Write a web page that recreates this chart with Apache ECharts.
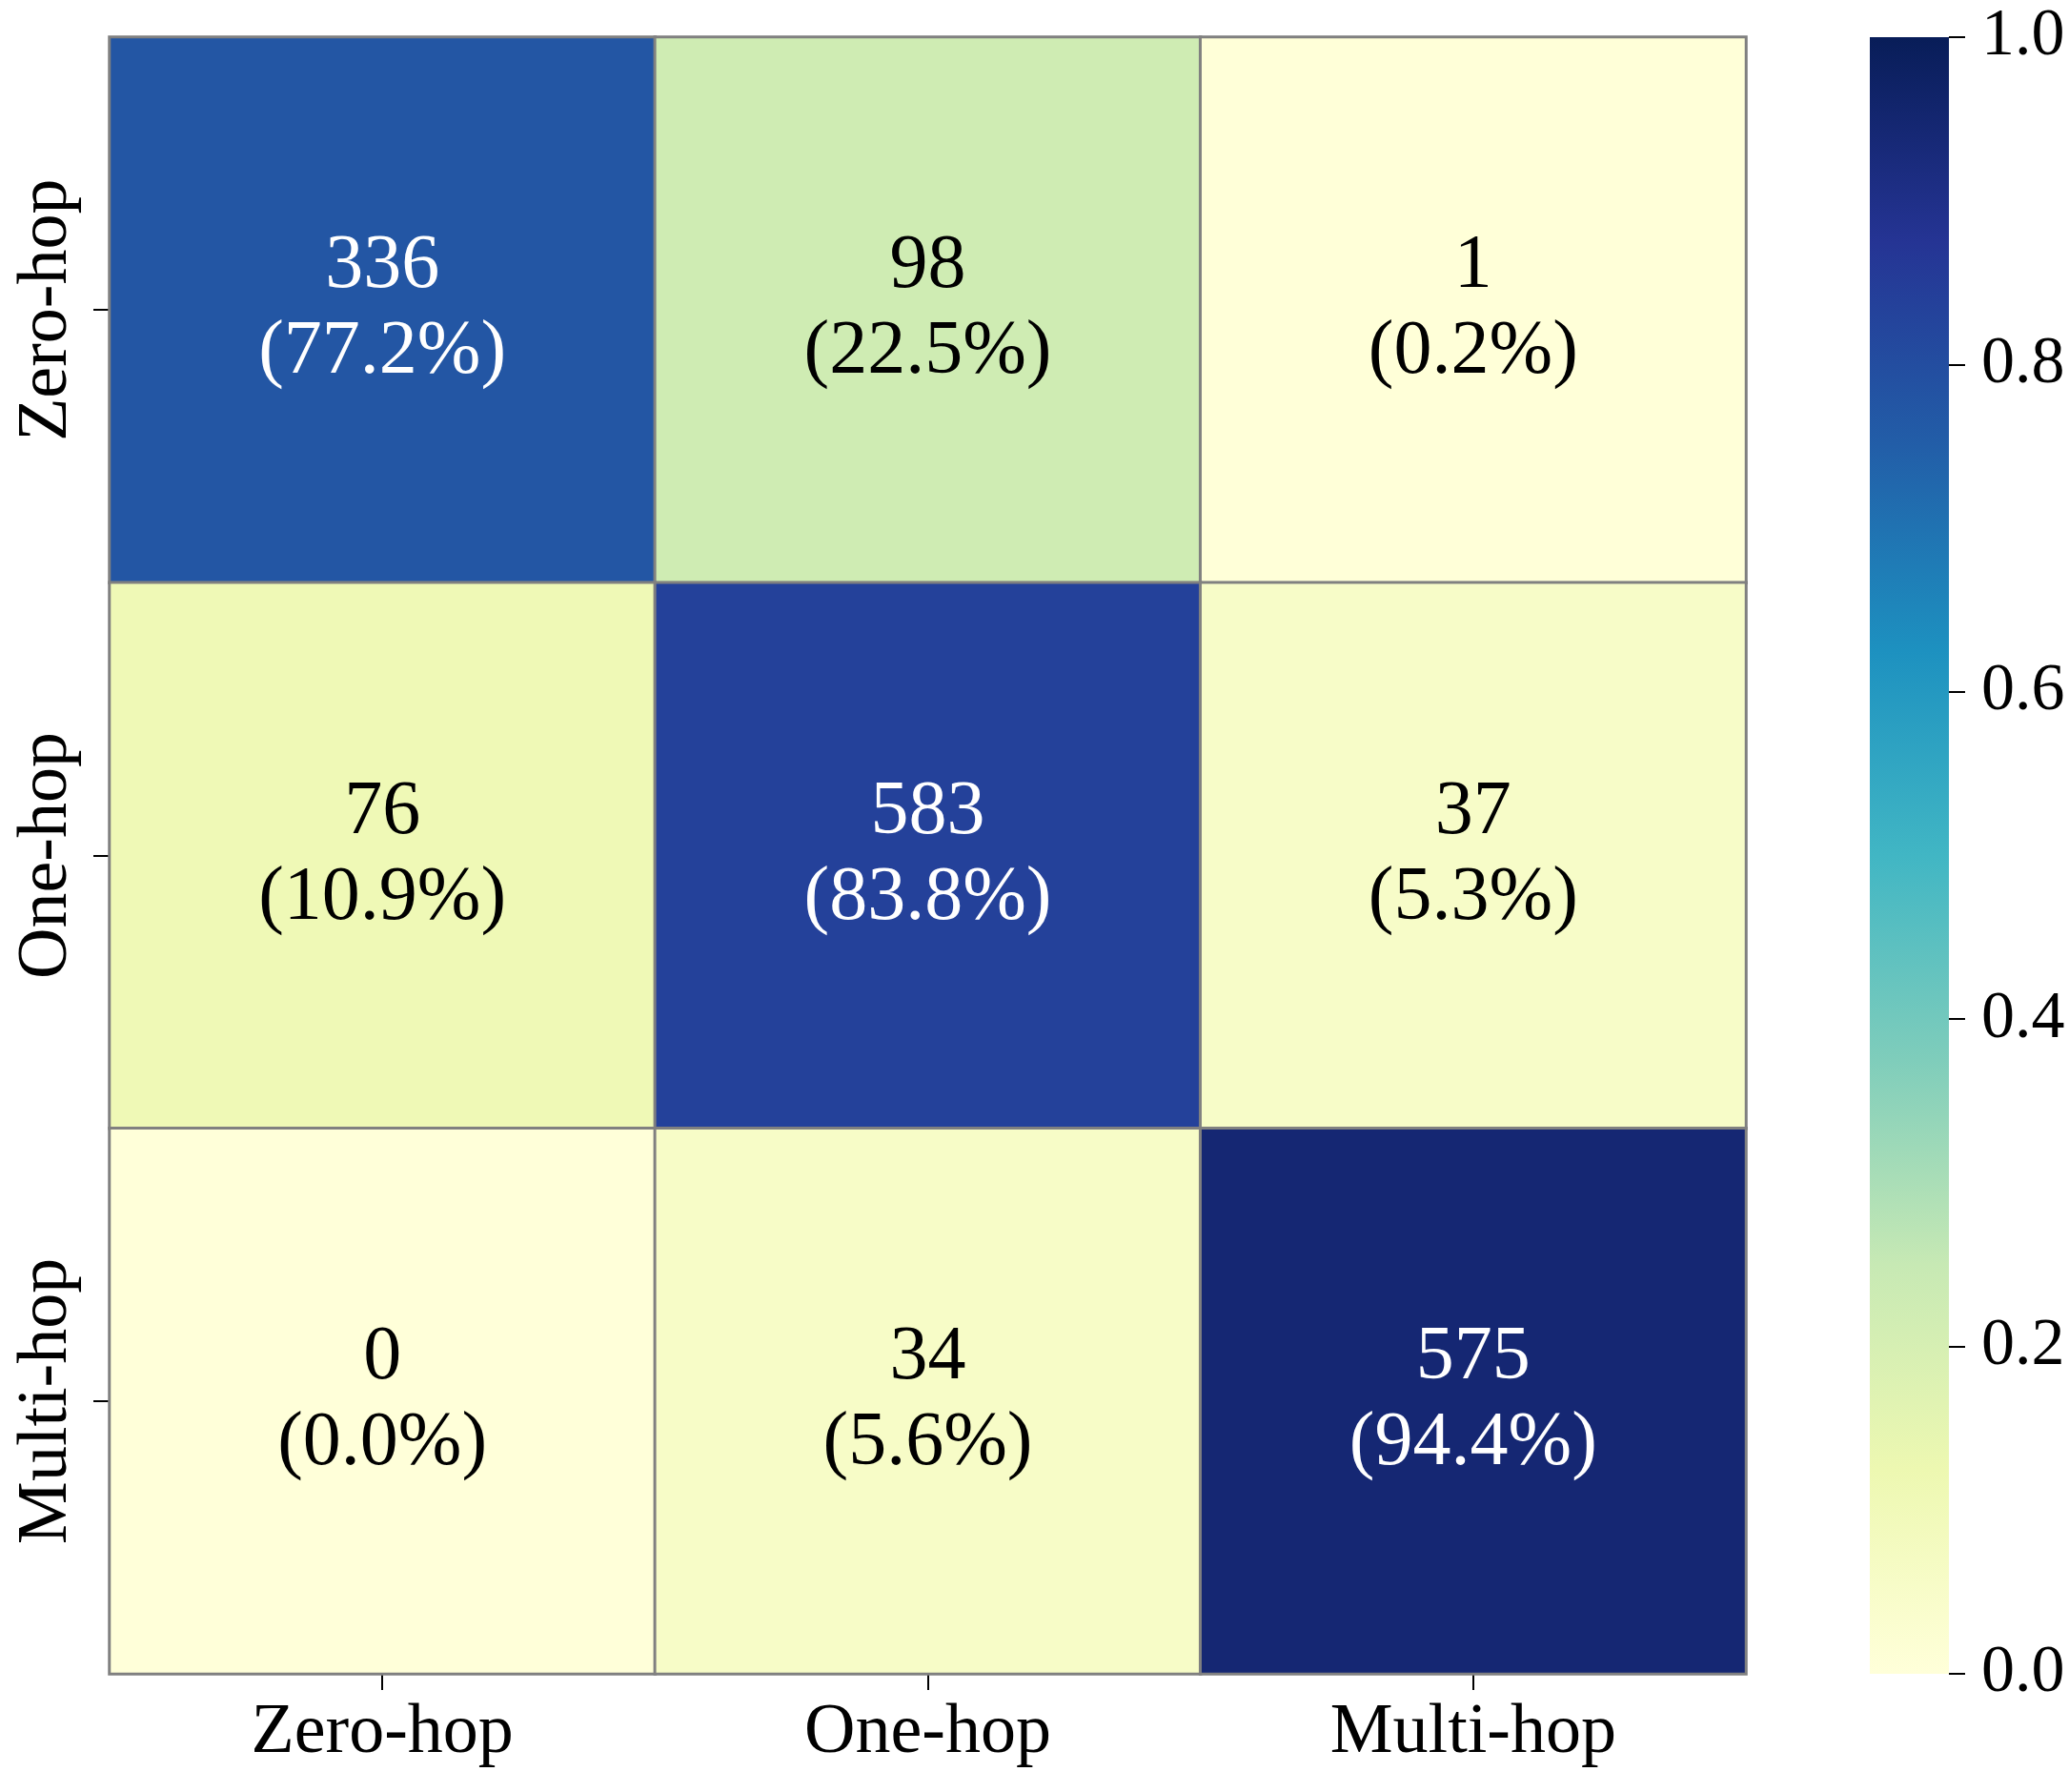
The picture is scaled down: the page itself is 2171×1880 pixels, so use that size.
<!DOCTYPE html>
<html>
<head>
<meta charset="utf-8">
<script src="https://cdn.jsdelivr.net/npm/echarts@6/dist/echarts.min.js"></script>
<style>
  html, body { margin: 0; padding: 0; background: #fff; }
  #chart { width: 2171px; height: 1880px; }
</style>
</head>
<body>
<div id="chart"></div>
<script>
// 类别（行 = 真实, 列 = 预测）
var categories = ['Zero-hop', 'One-hop', 'Multi-hop'];
// 混淆矩阵计数
var counts = [
  [336, 98, 1],
  [76, 583, 37],
  [0, 34, 575]
];
// 色条刻度
var barTicks = [0, 0.2, 0.4, 0.6, 0.8, 1.0];
// YlGnBu 色表
var ylGnBu = ['#ffffd9', '#edf8b1', '#c7e9b4', '#7fcdbb', '#41b6c4', '#1d91c0', '#225ea8', '#253494', '#081d58'];

var FONT = '"Liberation Serif", "DejaVu Serif", serif';

// 按行归一化，深色格子用白字
var cells = [];
counts.forEach(function (row, i) {
  var total = row.reduce(function (a, b) { return a + b; }, 0);
  row.forEach(function (c, j) {
    var ratio = c / total;
    cells.push({
      value: [j, i, ratio, c],
      label: { color: ratio > 0.5 ? '#fff' : '#000' }
    });
  });
});

var chart = echarts.init(document.getElementById('chart'));

var option = {
  backgroundColor: '#fff',
  animation: false,
  grid: [
    { left: 115, top: 39, width: 1717, height: 1717, containLabel: false },
    { left: 1962, top: 39, width: 83, height: 1717, containLabel: false }
  ],
  xAxis: [{
    type: 'category',
    gridIndex: 0,
    data: categories,
    axisLine: { show: false },
    axisTick: { show: true, alignWithLabel: true, length: 17, lineStyle: { color: '#000', width: 2 } },
    axisLabel: { fontFamily: FONT, fontSize: 74, color: '#000', margin: 26 },
    splitLine: { show: false }
  }, {
    type: 'category',
    gridIndex: 1,
    data: [''],
    show: false
  }],
  yAxis: [{
    type: 'category',
    gridIndex: 0,
    inverse: true,
    data: categories,
    axisLine: { show: false },
    axisTick: { show: true, alignWithLabel: true, length: 17, lineStyle: { color: '#000', width: 2 } },
    axisLabel: { fontFamily: FONT, fontSize: 74, color: '#000', rotate: 90, margin: 28 },
    splitLine: { show: false }
  }, {
    type: 'value',
    gridIndex: 1,
    position: 'right',
    min: 0,
    max: 1,
    interval: 0.2,
    axisLine: { show: false },
    axisTick: { show: true, length: 17, lineStyle: { color: '#000', width: 2 } },
    axisLabel: {
      fontFamily: FONT, fontSize: 70, color: '#000', margin: 34,
      formatter: function (v) { return v.toFixed(1); }
    },
    splitLine: { show: false }
  }],
  visualMap: {
    show: false,
    type: 'continuous',
    min: 0,
    max: 1,
    dimension: 2,
    seriesIndex: 0,
    inRange: { color: ylGnBu }
  },
  series: [{
    type: 'heatmap',
    xAxisIndex: 0,
    yAxisIndex: 0,
    data: cells,
    itemStyle: { borderColor: '#808080', borderWidth: 3 },
    label: {
      show: true,
      fontFamily: FONT,
      fontSize: 80,
      lineHeight: 90,
      formatter: function (p) {
        return p.value[3] + '\n(' + (p.value[2] * 100).toFixed(1) + '%)';
      }
    }
  }, {
    type: 'bar',
    xAxisIndex: 1,
    yAxisIndex: 1,
    barWidth: '100%',
    data: [barTicks[barTicks.length - 1]],
    silent: true,
    itemStyle: {
      color: new echarts.graphic.LinearGradient(0, 1, 0, 0, ylGnBu.map(function (c, k) {
        return { offset: k / (ylGnBu.length - 1), color: c };
      }))
    }
  }]
};

chart.setOption(option);
</script>
</body>
</html>
